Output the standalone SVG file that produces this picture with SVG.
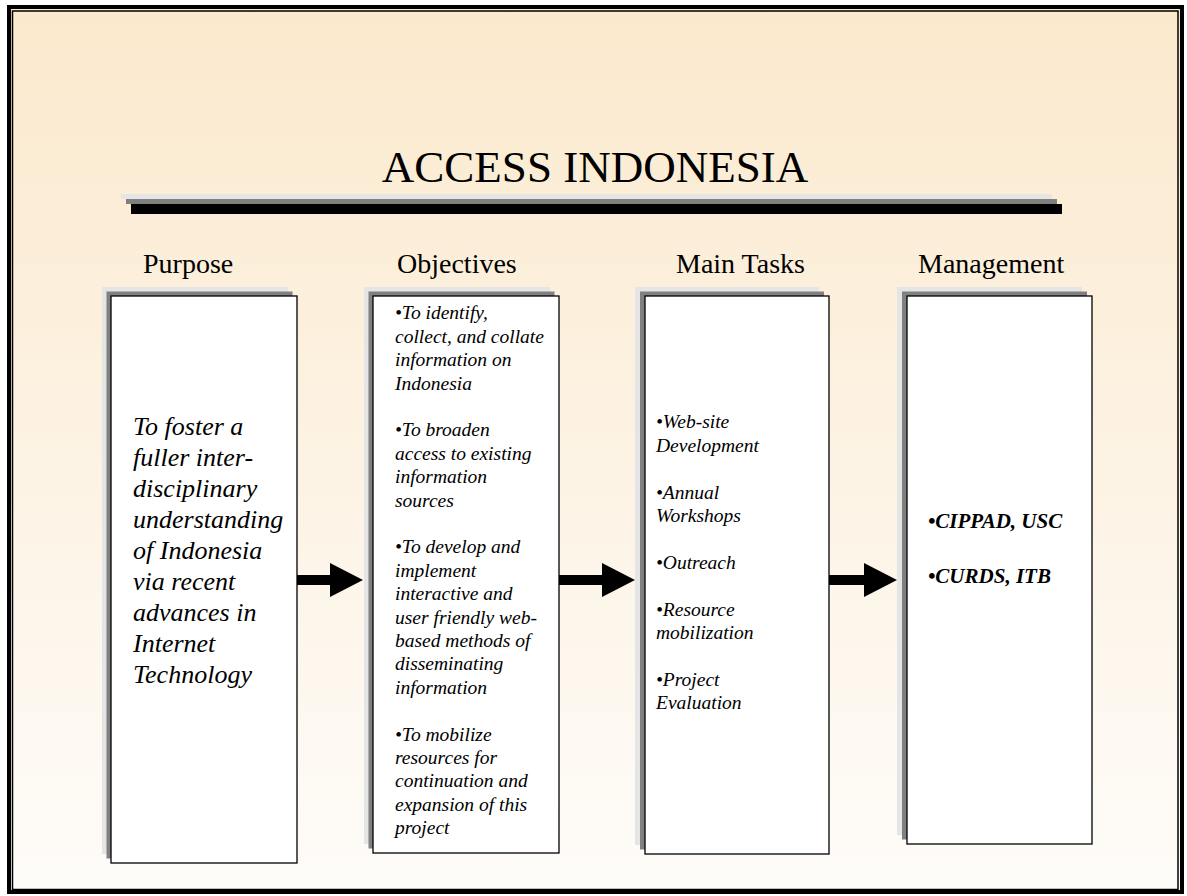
<svg xmlns="http://www.w3.org/2000/svg" width="1187" height="896" viewBox="0 0 1187 896">
  <defs>
    <linearGradient id="bg" x1="0" y1="0" x2="0" y2="1">
      <stop offset="0" stop-color="#FBE9CD"/>
      <stop offset="1" stop-color="#FEFCF9"/>
    </linearGradient>
  </defs>
  <style>
    .sh1 { fill: #E5E5E5; }
    .sh2 { fill: #808080; }
    .box { fill: #FFFFFF; stroke: #000000; stroke-width: 1.3; }
    .hdr { font-family: "Liberation Serif", "Times New Roman", serif; font-size: 28px; fill: #000; }
    .purp { font-family: "Liberation Serif", "Times New Roman", serif; font-size: 26px; font-style: italic; fill: #000; }
    .it { font-family: "Liberation Serif", "Times New Roman", serif; font-size: 19.5px; font-style: italic; fill: #000; }
    .bi { font-family: "Liberation Serif", "Times New Roman", serif; font-size: 21px; font-style: italic; font-weight: bold; fill: #000; }
    .arrow { fill: #000; }
  </style>

  <rect x="0" y="0" width="1187" height="896" fill="#FFFFFF"/>
  <rect x="9" y="7" width="1173" height="885" fill="url(#bg)"/>
  <rect x="9" y="7" width="1173" height="885" fill="none" stroke="#000" stroke-width="4"/>
  <rect x="12.5" y="11" width="1165.5" height="878.5" fill="none" stroke="#000" stroke-width="1.5"/>

  <g id="title">
    <text x="595" y="182" text-anchor="middle" font-family="'Liberation Serif', 'Times New Roman', serif" font-size="45">ACCESS INDONESIA</text>
    <rect x="121" y="194" width="931" height="5" class="sh1"/>
    <rect x="126" y="199" width="931" height="5" class="sh2"/>
    <rect x="131" y="204" width="931" height="10" fill="#000"/>
  </g>

  <g id="purpose">
    <text x="143" y="273" class="hdr">Purpose</text>
    <rect x="102" y="287" width="186" height="567" class="sh1"/>
    <rect x="106.5" y="291.5" width="186" height="567" class="sh2"/>
    <rect x="111" y="296" width="186" height="567" class="box"/>
    <text class="purp">
      <tspan x="133" y="434.5">To foster a</tspan>
      <tspan x="133" y="465.5">fuller inter-</tspan>
      <tspan x="133" y="496.5">disciplinary</tspan>
      <tspan x="133" y="527.5">understanding</tspan>
      <tspan x="133" y="558.5">of Indonesia</tspan>
      <tspan x="133" y="589.5">via recent</tspan>
      <tspan x="133" y="620.5">advances in</tspan>
      <tspan x="133" y="651.5">Internet</tspan>
      <tspan x="133" y="682.5">Technology</tspan>
    </text>
  </g>

  <g id="objectives">
    <text x="397" y="273" class="hdr">Objectives</text>
    <rect x="364" y="287" width="186" height="557" class="sh1"/>
    <rect x="368.5" y="291.5" width="186" height="557" class="sh2"/>
    <rect x="373" y="296" width="186" height="557" class="box"/>
    <text class="it">
      <tspan x="395" y="319.4">•To identify,</tspan>
      <tspan x="395" y="342.8">collect, and collate</tspan>
      <tspan x="395" y="366.2">information on</tspan>
      <tspan x="395" y="389.6">Indonesia</tspan>
      <tspan x="395" y="436.4">•To broaden</tspan>
      <tspan x="395" y="459.8">access to existing</tspan>
      <tspan x="395" y="483.2">information</tspan>
      <tspan x="395" y="506.6">sources</tspan>
      <tspan x="395" y="553.4">•To develop and</tspan>
      <tspan x="395" y="576.8">implement</tspan>
      <tspan x="395" y="600.2">interactive and</tspan>
      <tspan x="395" y="623.6">user friendly web-</tspan>
      <tspan x="395" y="647">based methods of</tspan>
      <tspan x="395" y="670.4">disseminating</tspan>
      <tspan x="395" y="693.8">information</tspan>
      <tspan x="395" y="740.6">•To mobilize</tspan>
      <tspan x="395" y="764">resources for</tspan>
      <tspan x="395" y="787.4">continuation and</tspan>
      <tspan x="395" y="810.8">expansion of this</tspan>
      <tspan x="395" y="834.2">project</tspan>
    </text>
  </g>

  <g id="main-tasks">
    <text x="676" y="273" class="hdr">Main Tasks</text>
    <rect x="635" y="287" width="184" height="558" class="sh1"/>
    <rect x="640" y="291.5" width="184" height="558" class="sh2"/>
    <rect x="645" y="296" width="184" height="558" class="box"/>
    <text class="it">
      <tspan x="656" y="428.3">•Web-site</tspan>
      <tspan x="656" y="451.7">Development</tspan>
      <tspan x="656" y="498.5">•Annual</tspan>
      <tspan x="656" y="521.9">Workshops</tspan>
      <tspan x="656" y="568.7">•Outreach</tspan>
      <tspan x="656" y="615.5">•Resource</tspan>
      <tspan x="656" y="638.9">mobilization</tspan>
      <tspan x="656" y="685.7">•Project</tspan>
      <tspan x="656" y="709.1">Evaluation</tspan>
    </text>
  </g>

  <g id="management">
    <text x="918" y="273" class="hdr">Management</text>
    <rect x="897" y="287" width="185" height="548" class="sh1"/>
    <rect x="902" y="291.5" width="185" height="548" class="sh2"/>
    <rect x="907" y="296" width="185" height="548" class="box"/>
    <text class="bi">
      <tspan x="928" y="528">•CIPPAD, USC</tspan>
      <tspan x="928" y="583">•CURDS, ITB</tspan>
    </text>
  </g>

  <g id="connectors">
    <polygon class="arrow" points="297,575 330,575 330,563 363,580 330,597 330,585 297,585"/>
    <polygon class="arrow" points="559,575 602,575 602,563 635,580 602,597 602,585 559,585"/>
    <polygon class="arrow" points="829,575 864,575 864,563 897,580 864,597 864,585 829,585"/>
  </g>
</svg>
